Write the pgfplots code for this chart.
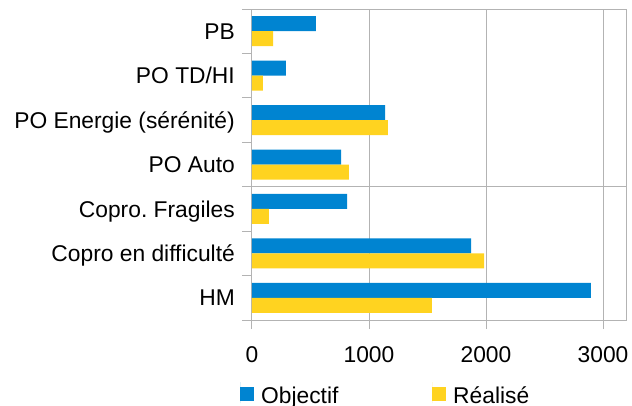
\documentclass[border=0pt]{standalone}
\usepackage{pgfplots}
\pgfplotsset{compat=1.18}
\usepackage{fontspec}
\setmainfont{Liberation Sans}
\frenchspacing
\definecolor{cobj}{HTML}{0084D1}
\definecolor{creal}{HTML}{FFD320}
\definecolor{gridc}{HTML}{B3B3B3}
\newcommand{\lf}{\fontsize{22.8}{27}\selectfont}
\begin{document}
\begin{tikzpicture}
\useasboundingbox (-252pt,-85pt) rectangle (380pt,320pt);
\begin{axis}[
  at={(0,0)}, anchor=south west,
  scale only axis, width=375pt, height=311pt,
  xmin=0, xmax=3205, ymin=-0.5, ymax=6.5,
  xbar, bar width=15pt,
  xtick={0,1000,2000,3000},
  ytick={0,...,6},
  yticklabels={HM\ ,Copro en difficulté,Copro.\ Fragiles,PO Auto,PO Energie (sérénité),PO TD/HI,PB},
  minor ytick={-0.5,0.5,...,6.5},
  extra y ticks={2.5}, extra y tick labels={},
  extra y tick style={grid=major},
  xmajorgrids,
  major grid style={gridc, line width=1pt},
  axis line style={gridc, line width=1pt},
  tick align=outside,
  xtick pos=left, ytick pos=left,
  major tick length=9pt, minor tick length=10pt,
  tick style={gridc, line width=1pt},
  major y tick style={draw=none},
  /pgf/number format/assume math mode=true,
  /pgf/number format/set thousands separator={},
  tick label style={font=\lf, text=black},
  xticklabel style={inner sep=0pt, anchor=north, yshift=-17.5pt},
  yticklabel style={inner sep=0pt, anchor=base east, xshift=-8pt, yshift=-8.2pt},
  legend style={at={(axis description cs:-0.032,-0.2425)}, anchor=west,
    draw=none, fill=none, inner sep=0pt, font=\lf,
    nodes={inner sep=0pt, text height=16pt, text depth=5pt},
    /tikz/every odd column/.append style={column sep=7pt},
    /tikz/every even column/.append style={column sep=93.7pt}},
  legend columns=2,
  legend image code/.code={\path (0pt,-5pt) -- (0pt,16pt); \fill[#1] (0pt,-3pt) rectangle (14pt,11pt);},
]
\addplot[fill=cobj, draw=none, bar shift=7.5pt] coordinates {(2897,0) (1872,1) (812,2) (761,3) (1137,4) (290,5) (547,6)};
\addplot[fill=creal, draw=none, bar shift=-7.5pt] coordinates {(1538,0) (1983,1) (145,2) (829,3) (1162,4) (94,5) (180,6)};
\legend{Objectif,Réalisé}
\end{axis}
\end{tikzpicture}
\end{document}
